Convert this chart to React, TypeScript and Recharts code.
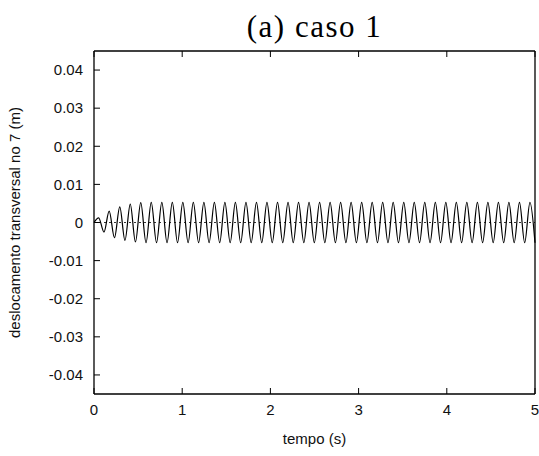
import React from 'react';
import { LineChart, Line, XAxis, YAxis, ReferenceLine } from 'recharts';

const title = '(a) caso 1';
const xLabel = 'tempo (s)';
const yLabel = 'deslocamento transversal no 7 (m)';

const xTicks = [0, 1, 2, 3, 4, 5];
const yTicks = [-0.04, -0.03, -0.02, -0.01, 0, 0.01, 0.02, 0.03, 0.04];

// times (s) of the successive peaks / troughs
const extremaTimes = [
  0, 0.053, 0.113, 0.172, 0.232, 0.292, 0.351, 0.411, 0.47, 0.53,
  0.59, 0.649, 0.709, 0.769, 0.828, 0.888, 0.947, 1.007, 1.067, 1.126,
  1.186, 1.246, 1.305, 1.365, 1.425, 1.484, 1.544, 1.603, 1.663, 1.723,
  1.782, 1.842, 1.902, 1.961, 2.021, 2.081, 2.14, 2.2, 2.259, 2.319,
  2.379, 2.438, 2.498, 2.558, 2.617, 2.677, 2.737, 2.796, 2.856, 2.915,
  2.975, 3.035, 3.094, 3.154, 3.214, 3.273, 3.333, 3.392, 3.452, 3.512,
  3.571, 3.631, 3.691, 3.75, 3.81, 3.87, 3.929, 3.989, 4.048, 4.108,
  4.168, 4.227, 4.287, 4.347, 4.406, 4.466, 4.526, 4.585, 4.645, 4.704,
  4.764, 4.824, 4.883, 4.943, 5.0,
];

// displacement (m) at those peaks / troughs
const extremaValues = [
  0, 0.0012, -0.0025, 0.003, -0.004, 0.0041, -0.0047, 0.0048, -0.0051, 0.0052,
  -0.0053, 0.0053, -0.0053, 0.0053, -0.0053, 0.0053, -0.0053, 0.0053, -0.0053, 0.0053,
  -0.0053, 0.0053, -0.0053, 0.0053, -0.0053, 0.0053, -0.0053, 0.0053, -0.0053, 0.0053,
  -0.0053, 0.0053, -0.0053, 0.0053, -0.0053, 0.0053, -0.0053, 0.0053, -0.0053, 0.0053,
  -0.0053, 0.0053, -0.0053, 0.0053, -0.0053, 0.0053, -0.0053, 0.0053, -0.0053, 0.0053,
  -0.0053, 0.0053, -0.0053, 0.0053, -0.0053, 0.0053, -0.0053, 0.0053, -0.0053, 0.0053,
  -0.0053, 0.0053, -0.0053, 0.0053, -0.0053, 0.0053, -0.0053, 0.0053, -0.0053, 0.0053,
  -0.0053, 0.0053, -0.0053, 0.0053, -0.0053, 0.0053, -0.0053, 0.0053, -0.0053, 0.0053,
  -0.0053, 0.0053, -0.0053, 0.0053, -0.0053,
];

const data = extremaTimes.map((t, i) => ({ t, y: extremaValues[i] }));

const fmtY = (v: number) => (Math.abs(v) < 1e-9 ? '0' : v.toFixed(2));
const blank = () => '';

const font = '"Liberation Sans", Arial, sans-serif';
const tickStyle = { fontSize: 15, fill: '#111', fontFamily: font };
const axisStroke = { stroke: '#000', strokeWidth: 1.3 };

export default function App() {
  return (
    <div style={{ position: 'absolute', left: 0, top: 0, width: 539, height: 456, background: '#fff' }}>
      <div
        style={{
          position: 'absolute',
          left: 94,
          width: 441,
          top: 9,
          textAlign: 'center',
          fontFamily: '"Liberation Serif", "Times New Roman", serif',
          fontSize: 31,
          letterSpacing: 1.5,
          lineHeight: '36px',
          color: '#000',
        }}
      >
        {title}
      </div>
      <LineChart
        width={539}
        height={456}
        data={data}
        margin={{ top: 41, right: 0, bottom: 0, left: 0 }}
      >
        <XAxis
          dataKey="t"
          type="number"
          domain={[0, 5]}
          ticks={xTicks}
          interval={0}
          height={62}
          tickSize={-6}
          tickMargin={16}
          axisLine={axisStroke}
          tickLine={{ stroke: '#000', strokeWidth: 1 }}
          tick={tickStyle}
          label={{ value: xLabel, position: 'insideBottom', offset: 12, style: { fontSize: 15, fill: '#111', fontFamily: font } }}
        />
        <XAxis
          xAxisId="top"
          orientation="top"
          dataKey="t"
          type="number"
          domain={[0, 5]}
          ticks={xTicks}
          interval={0}
          height={10}
          tickSize={-6}
          axisLine={axisStroke}
          tickLine={{ stroke: '#000', strokeWidth: 1 }}
          tickFormatter={blank}
        />
        <YAxis
          type="number"
          domain={[-0.045, 0.045]}
          ticks={yTicks}
          interval={0}
          width={94}
          tickSize={-6}
          tickMargin={17}
          tickFormatter={fmtY}
          axisLine={axisStroke}
          tickLine={{ stroke: '#000', strokeWidth: 1 }}
          tick={tickStyle}
          label={{ value: yLabel, angle: -90, position: 'insideLeft', offset: 15, style: { textAnchor: 'middle', fontSize: 15, fill: '#111', fontFamily: font } }}
        />
        <YAxis
          yAxisId="right"
          orientation="right"
          type="number"
          domain={[-0.045, 0.045]}
          ticks={yTicks}
          interval={0}
          width={4}
          tickSize={-6}
          tickFormatter={blank}
          axisLine={axisStroke}
          tickLine={{ stroke: '#000', strokeWidth: 1 }}
        />
        <ReferenceLine y={0} stroke="#000" strokeWidth={0.8} strokeDasharray="2 3" />
        <Line
          type="monotone"
          dataKey="y"
          stroke="#000"
          strokeWidth={1.2}
          dot={false}
          activeDot={false}
          isAnimationActive={false}
        />
      </LineChart>
    </div>
  );
}
